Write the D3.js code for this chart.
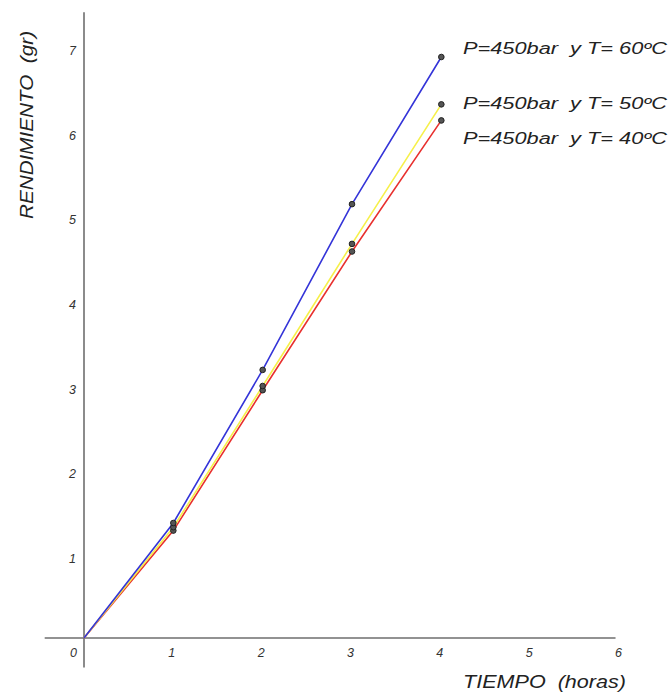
<!DOCTYPE html>
<html>
<head>
<meta charset="utf-8">
<script src="https://cdn.jsdelivr.net/npm/d3@7"></script>
<style>
  body { margin: 0; background: #fff; }
  svg { font-family: "Liberation Sans", Arial, sans-serif; }
  text { white-space: pre; }
  .tick text { font-style: italic; fill: #333; font-size: 12.5px; }
</style>
</head>
<body>
<svg></svg>
<script>
const horas = [0, 1, 2, 3, 4];
const rend60 = [0, 1.36, 3.17, 5.13, 6.87];
const rend50 = [0, 1.31, 2.98, 4.66, 6.31];
const rend40 = [0, 1.27, 2.93, 4.57, 6.12];
const seriesNames = ['P=450bar  y T= 60ºC', 'P=450bar  y T= 50ºC', 'P=450bar  y T= 40ºC'];
const xTicks = [0, 1, 2, 3, 4, 5, 6];
const yTicks = [1, 2, 3, 4, 5, 6, 7];

const WIDTH = 669;
const HEIGHT = 693;

const x = d3.scaleLinear().domain([0, 6]).range([84, 620]);
const y = d3.scaleLinear().domain([0, 7]).range([638, 46]);

const svg = d3.select('svg')
    .attr('width', WIDTH)
    .attr('height', HEIGHT);

// axis lines, crossing at the origin
svg.append('line')
    .attr('x1', x(-0.44)).attr('x2', x(5.95))
    .attr('y1', y(0)).attr('y2', y(0))
    .attr('stroke', '#6e6e6e').attr('stroke-width', 1.6);
svg.append('line')
    .attr('x1', x(0)).attr('x2', x(0))
    .attr('y1', y(7.4)).attr('y2', y(-0.35))
    .attr('stroke', '#6e6e6e').attr('stroke-width', 1.6);

const xAxis = svg.append('g')
    .attr('transform', `translate(0, ${y(0)})`)
    .call(d3.axisBottom(x).tickValues(xTicks).tickSize(0).tickPadding(10).tickFormat(d3.format('d')));
xAxis.select('.domain').remove();
xAxis.selectAll('.tick text').attr('dx', d => d === 0 ? -11 : -2);

const yAxis = svg.append('g')
    .attr('transform', `translate(${x(0)}, 0)`)
    .call(d3.axisLeft(y).tickValues(yTicks).tickSize(0).tickPadding(8).tickFormat(d3.format('d')));
yAxis.select('.domain').remove();
yAxis.selectAll('.tick text').attr('dy', '0.7em');

const series = [
    { name: seriesNames[2], values: rend40, color: '#e8302e' },
    { name: seriesNames[1], values: rend50, color: '#f6f04a' },
    { name: seriesNames[0], values: rend60, color: '#3434d8' }
];

const line = d3.line()
    .x((d, i) => x(horas[i]))
    .y(d => y(d));

svg.selectAll('.serie')
    .data(series)
    .enter()
    .append('path')
    .classed('serie', true)
    .attr('d', d => line(d.values))
    .attr('fill', 'none')
    .attr('stroke', d => d.color)
    .attr('stroke-width', 1.6);

series.forEach(s => {
    svg.selectAll(null)
        .data(s.values.slice(1))
        .enter()
        .append('circle')
        .attr('cx', (d, i) => x(horas[i + 1]))
        .attr('cy', d => y(d))
        .attr('r', 2.8)
        .attr('fill', '#555')
        .attr('stroke', '#222')
        .attr('stroke-width', 1);
});

// labels next to last points
const labelY = [54, 109, 144];
seriesNames.forEach((name, i) => {
    svg.append('text')
        .attr('x', 463)
        .attr('y', labelY[i])
        .attr('font-size', 16)
        .attr('font-style', 'italic')
        .attr('fill', '#222')
        .attr('textLength', 204)
        .attr('lengthAdjust', 'spacingAndGlyphs')
        .text(name);
});

svg.append('text')
    .attr('transform', 'translate(33, 125) rotate(-90)')
    .attr('text-anchor', 'middle')
    .attr('font-size', 18)
    .attr('font-style', 'italic')
    .attr('fill', '#222')
    .attr('textLength', 188)
    .attr('lengthAdjust', 'spacingAndGlyphs')
    .text('RENDIMIENTO  (gr)');

svg.append('text')
    .attr('x', 463)
    .attr('y', 688)
    .attr('font-size', 18)
    .attr('font-style', 'italic')
    .attr('fill', '#222')
    .attr('textLength', 163)
    .attr('lengthAdjust', 'spacingAndGlyphs')
    .text('TIEMPO  (horas)');
</script>
</body>
</html>
